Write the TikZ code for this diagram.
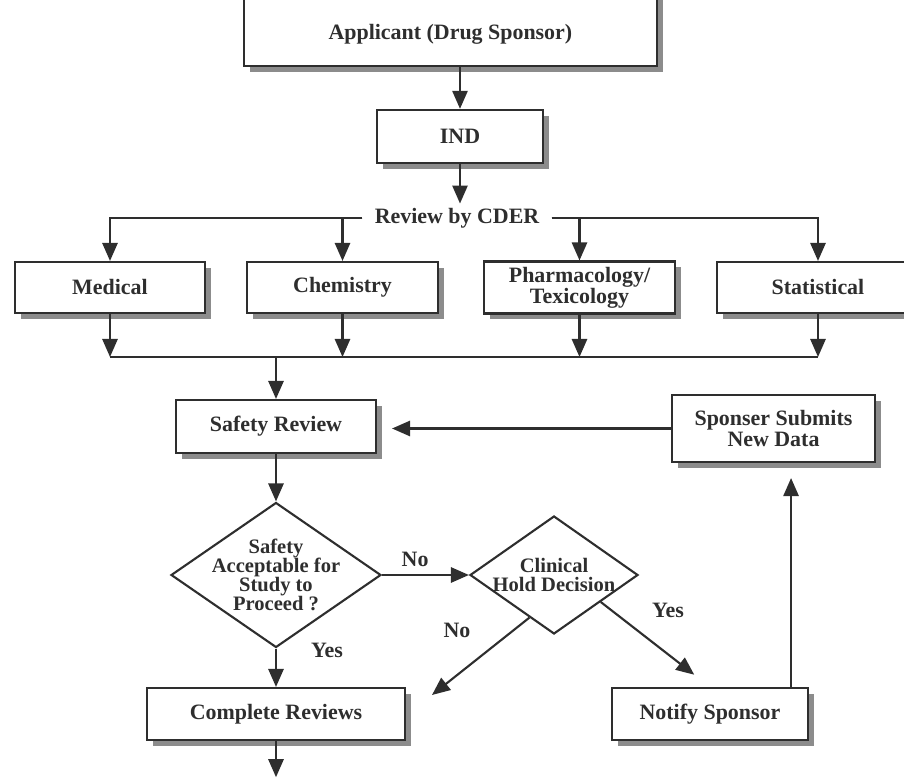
\documentclass[tikz,border=0pt]{standalone}
\usepackage{fontspec}
\setmainfont{Liberation Serif}
\usepackage{tikz}
\usetikzlibrary{arrows.meta,shapes.geometric,shadows}
\definecolor{inkgray}{HTML}{2E2E2E}
\definecolor{shadegray}{HTML}{8C8C8C}

\begin{document}
\begin{tikzpicture}[
  procbox/.style={draw=inkgray,line width=1.5pt,fill=white,align=center,
    font=\fontsize{15.6}{15}\selectfont\bfseries,text=inkgray,inner sep=2pt,
    drop shadow={shadow xshift=0.15cm,shadow yshift=-0.15cm,fill=shadegray,opacity=1}},
  decbox/.style={diamond,draw=inkgray,line width=1.5pt,fill=white,align=center,
    font=\fontsize{14.6}{13.5}\selectfont\bfseries,text=inkgray,
    inner xsep=-1cm,inner ysep=-0.5cm},
  flowline/.style={draw=inkgray,line width=1.5pt,
    -{Triangle[length=0.45cm,width=0.38cm]}},
  yesno/.style={font=\fontsize{15.6}{18}\selectfont\bfseries,text=inkgray}
]
  \useasboundingbox (0,0) rectangle (22.6,19.45);
  \clip (0,0) rectangle (22.6,19.45);

  % Sponsor and IND
  \node[procbox,minimum width=10.325cm,minimum height=2.2cm,
    text height=0.99cm,text depth=0.12cm] (app) at (11.26,18.9)
    {Applicant (Drug Sponsor)};
  \node[procbox,minimum width=4.15cm,minimum height=1.325cm] (ind) at (11.5,16.04) {IND};
  \node[font=\fontsize{15.6}{15}\selectfont\bfseries,text=inkgray,fill=white,
    inner xsep=0.3cm,inner ysep=3pt] (cder) at (11.425,14.0) {Review by CDER};

  % Review disciplines
  \node[procbox,minimum width=4.75cm,minimum height=1.275cm] (med) at (2.75,12.2625) {Medical};
  \node[procbox,minimum width=4.775cm,minimum height=1.275cm] (chem) at (8.5625,12.2625) {Chemistry};
  \node[procbox,minimum width=4.775cm,minimum height=1.3cm] (pharm) at (14.4875,12.2625)
    {Pharmacology/\\Texicology};
  \node[procbox,minimum width=5.05cm,minimum height=1.275cm] (stat) at (20.45,12.2625) {Statistical};

  % Safety loop
  \node[procbox,minimum width=5cm,minimum height=1.325cm] (safety) at (6.9,8.7875) {Safety Review};
  \node[procbox,minimum width=5.075cm,minimum height=1.675cm] (newdata) at (19.3375,8.7375)
    {Sponser Submits\\New Data};
  \node[decbox,minimum width=5.25cm,minimum height=3.625cm] (safeok) at (6.9,5.075)
    {Safety\\Acceptable for\\Study to\\Proceed ?};
  \node[decbox,minimum width=4.2cm,minimum height=2.95cm] (hold) at (13.85,5.075)
    {Clinical\\Hold Decision};
  \node[procbox,minimum width=6.45cm,minimum height=1.3cm] (complete) at (6.9,1.6) {Complete Reviews};
  \node[procbox,minimum width=4.9cm,minimum height=1.3cm] (notify) at (17.75,1.6) {Notify Sponsor};
  \coordinate (join) at (6.9,10.525);
  \coordinate (nohead) at (10.8,2.075);
  \coordinate (nextstep) at (6.9,0.02);

  % Connectors
  \draw[flowline] (ind.north |- app.south) -- (ind.north);
  \draw[flowline] (ind.south) -- (ind.south |- cder.north);
  \draw[flowline] (cder.west) -| (med.north);
  \draw[flowline] (cder.west) -| (chem.north);
  \draw[flowline] (cder.east) -| (pharm.north);
  \draw[flowline] (cder.east) -| (stat.north);
  \draw[inkgray,line width=1.5pt] (med.south |- join) -- (stat.south |- join);
  \foreach \disc in {med,chem,pharm,stat}
    \draw[flowline] (\disc.south) -- (\disc.south |- join);
  \draw[flowline] (join) -- (safety.north);
  \draw[flowline] (safety) -- (safeok);
  \draw[flowline] (safeok) -- node[yesno,above=2pt,pos=0.38] (no1) {No} (hold);
  \draw[flowline] (safeok) -- (complete);
  \draw[flowline,shorten >=0.5cm] (hold.330) -- (notify.north);
  \draw[flowline] (hold.240) -- (nohead);
  \draw[flowline,shorten >=0.375cm] ([xshift=-0.45cm]notify.north east)
    -- ([xshift=-0.45cm]notify.north east |- newdata.south);
  \draw[flowline,shorten >=0.375cm] (newdata.west) -- (newdata.west -| safety.east);
  \draw[flowline] (complete) -- (nextstep);

  % Yes / No labels
  \node[yesno] (yes1) at (8.175,3.2) {Yes};
  \node[yesno] (yes2) at (16.7,4.2) {Yes};
  \node[yesno] (no2) at (11.425,3.7) {No};
\end{tikzpicture}
\end{document}
